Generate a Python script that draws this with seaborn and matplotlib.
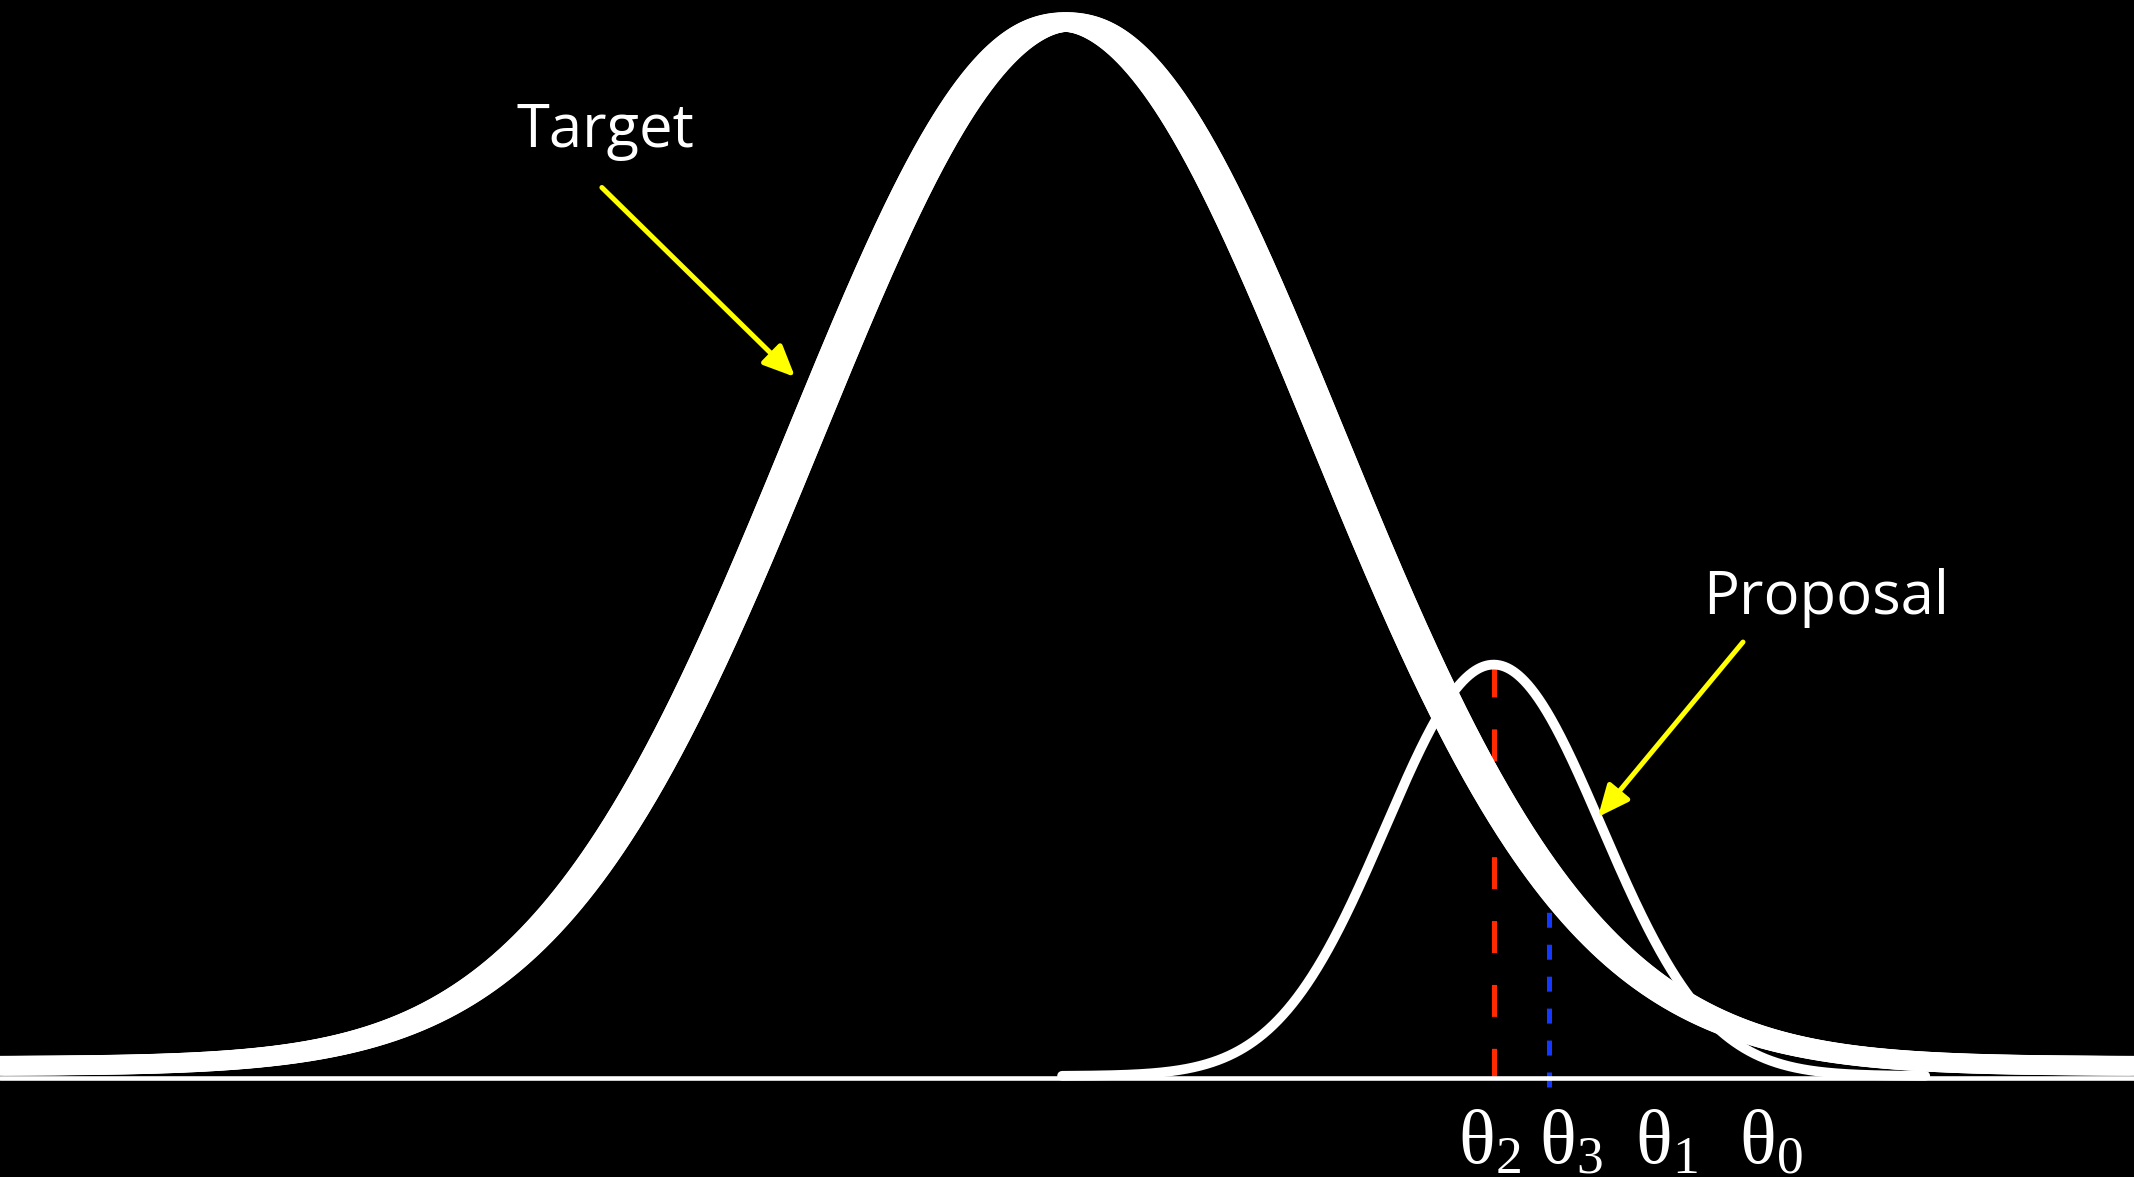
import numpy as np
import pandas as pd
import matplotlib
matplotlib.use("Agg")
import matplotlib.pyplot as plt
import matplotlib.patheffects as pe
from matplotlib.patches import ArrowStyle
import seaborn as sns

# ---------------- data ----------------
curve_names = ["Target", "Proposal"]
curve_means = [0.0, 1.645]      # theta units
curve_sds = [1.0, 0.415]
curve_peaks = [1.0, 0.394]      # peak height above own base
curve_bases = [0.0115, 0.002]   # base level above the axis line
proposal_span_sd = 4.0          # proposal drawn over mean +/- 4 sd

theta_labels = [r"$\mathrm{θ_{2}}$", r"$\mathrm{θ_{3}}$", r"$\mathrm{θ_{1}}$", r"$\mathrm{θ_{0}}$"]
theta_label_x = [1.631, 1.942, 2.308, 2.712]
theta2_x = 1.645   # red dashed marker (proposal mode)
theta3_x = 1.858   # blue dotted marker

annot_texts = ["Target", "Proposal"]
annot_text_xy = [(-1.773, 0.892), (2.923, 0.444)]
annot_arrow_tail = [(-1.785, 0.853), (2.604, 0.4176)]
annot_arrow_tip = [(-1.042, 0.6715), (2.046, 0.250)]

x_limits = (-4.10, 4.108)
y_limits = (-0.0948, 1.0326)

# ---------------- style ----------------
sns.set_theme(style="dark")
plt.rcParams["font.family"] = ["Open Sans", "DejaVu Sans"]
plt.rcParams["mathtext.fontset"] = "custom"
plt.rcParams["mathtext.rm"] = "Liberation Serif"
plt.rcParams["mathtext.it"] = "Liberation Serif"
plt.rcParams["lines.scale_dashes"] = False

fig = plt.figure(figsize=(21.34, 11.77), dpi=100, facecolor="black")
ax = fig.add_axes([0, 0, 1, 1])
ax.set_facecolor("black")
ax.set_xlim(*x_limits)
ax.set_ylim(*y_limits)
ax.axis("off")


def gauss_curve(mean, sd, peak, base, lo, hi, n=1600):
    xs = np.linspace(lo, hi, n)
    ys = base + peak * np.exp(-0.5 * ((xs - mean) / sd) ** 2)
    return pd.DataFrame({"x": xs, "y": ys})


target_df = gauss_curve(curve_means[0], curve_sds[0], curve_peaks[0], curve_bases[0],
                        x_limits[0] - 0.2, x_limits[1] + 0.2)
prop_lo = curve_means[1] - proposal_span_sd * curve_sds[1]
prop_hi = curve_means[1] + proposal_span_sd * curve_sds[1]
proposal_df = gauss_curve(curve_means[1], curve_sds[1], curve_peaks[1], curve_bases[1],
                          prop_lo, prop_hi)

# axis line
ax.axhline(0, color="white", lw=3.3, zorder=3)

# red dashed line at theta2 (from proposal mode to the axis)
red_top = curve_bases[1] + curve_peaks[1]
ax.plot([theta2_x, theta2_x], [red_top, 0.002], color="#ff2a00", lw=3.6,
        dashes=(23, 23), zorder=1)

# blue dotted line at theta3 (from below axis up to the target curve)
t3_y = curve_bases[0] + curve_peaks[0] * np.exp(-0.5 * ((theta3_x - curve_means[0]) / curve_sds[0]) ** 2)
ax.plot([theta3_x, theta3_x], [-0.0086, t3_y], color="#1438ff", lw=3.6,
        dashes=(10.8, 12.2), zorder=1)

# proposal curve
sns.lineplot(data=proposal_df, x="x", y="y", color="white", lw=7.0, sort=False,
             ax=ax, zorder=4)

# target curve drawn with an elliptical "pen" (wide horizontally, thinner vertically)
pen_angles = np.linspace(0, 2 * np.pi, 20, endpoint=False)
pen = [pe.Stroke(offset=(10.1 * np.cos(t), 3.2 * np.sin(t)), linewidth=7.9,
                 foreground="white", joinstyle="round", capstyle="round")
       for t in pen_angles]
pen.append(pe.Stroke(linewidth=7.9, foreground="white"))
sns.lineplot(data=target_df, x="x", y="y", color="white", lw=7.9, sort=False,
             ax=ax, zorder=5, path_effects=pen)

# theta labels
for lab, lx in zip(theta_labels, theta_label_x):
    ax.text(lx, -0.0814, lab, color="white", fontsize=55, ha="center", va="baseline",
            zorder=6)

# annotations with yellow arrows
for txt, txy, tail, tip in zip(annot_texts, annot_text_xy, annot_arrow_tail, annot_arrow_tip):
    ax.text(txy[0], txy[1], txt, color="white", fontsize=43, ha="center", va="baseline",
            zorder=6)
    ax.annotate("", xy=tip, xytext=tail,
                arrowprops=dict(arrowstyle=ArrowStyle("-|>", head_length=1.9, head_width=0.85),
                                mutation_scale=10, color="#ffff00", lw=3.6,
                                shrinkA=0, shrinkB=0),
                zorder=7)

fig.savefig("out.png", dpi=100, facecolor="black")
